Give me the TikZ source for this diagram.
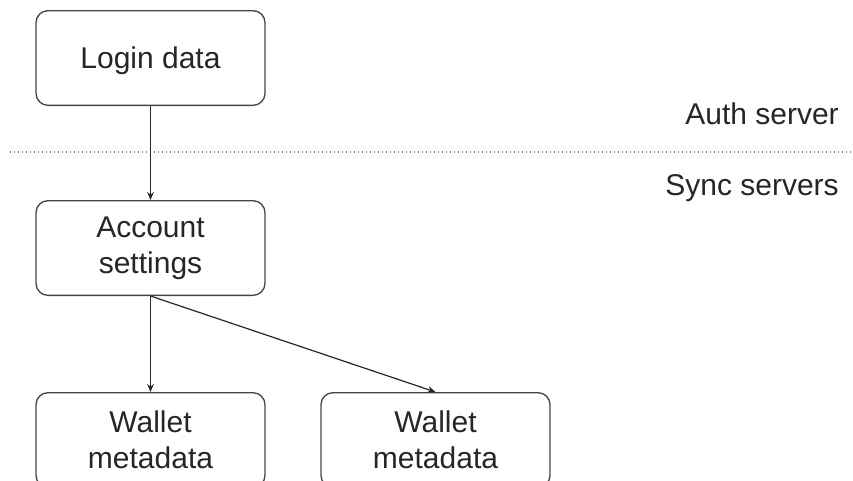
\documentclass[tikz,border=0pt]{standalone}
\usepackage{fontspec}
\setmainfont{Liberation Sans}
\usetikzlibrary{arrows.meta}
\definecolor{boxline}{HTML}{444444}
\definecolor{sepline}{HTML}{888888}
\begin{document}
\begin{tikzpicture}[x=0.75pt,y=-0.75pt,
  box/.style={draw=boxline, line width=1pt, rounded corners=9pt, minimum width=171.75pt,
    minimum height=71pt, align=center, inner sep=0pt,
    font=\fontsize{22.5}{27}\selectfont, text=black!85},
  lbl/.style={anchor=east, inner sep=0pt, font=\fontsize{22.5}{27}\selectfont, text=black!85},
  conn/.style={draw=black!85, line width=0.9pt, -{Stealth[length=6pt,width=5pt]}}]
\useasboundingbox (0,0) rectangle (853,480);
\clip (0,0) rectangle (853,480);
\node[box, text depth=0pt] (login) at (150.5,58) {Login data};
\node[box] (acct) at (150.5,248) {Account\\settings};
\node[box] (w1) at (150.5,440) {Wallet\\metadata};
\node[box] (w2) at (435.5,440) {Wallet\\metadata};
\coordinate (sepL) at (10,152);
\coordinate (sepR) at (853,152);
\draw[sepline, line width=1pt, dotted] (sepL) -- (sepR);
\node[lbl] (auth) at (839,114) {Auth server};
\node[lbl] (sync) at (839,188) {Sync servers};
\draw[conn] (login.south) -- (acct.north);
\draw[conn] (acct.south) -- (w1.north);
\draw[conn] (acct.south) -- (w2.north);
\end{tikzpicture}
\end{document}
